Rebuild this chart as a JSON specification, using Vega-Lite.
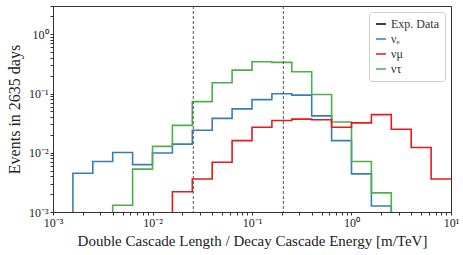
{
  "$schema": "https://vega.github.io/schema/vega-lite/v6.json",
  "width": 398,
  "height": 206,
  "autosize": {"type": "none"},
  "padding": {"left": 53, "top": 6, "right": 12, "bottom": 43},
  "background": "white",
  "config": {
    "font": "Liberation Serif",
    "view": {"stroke": "#333", "strokeWidth": 1},
    "axis": {"domainColor": "#333", "tickColor": "#333", "labelColor": "#222", "titleColor": "#222", "grid": false, "labelFont": "Liberation Serif", "labelFontSize": 12, "titleFontSize": 15, "titleFontWeight": "normal"}
  },
  "layer": [
    {
      "data": {
        "values": [
          {"edge": 0.001, "series": "νₑ", "v": 0.0001},
          {"edge": 0.001585, "series": "νₑ", "v": 0.0045},
          {"edge": 0.002512, "series": "νₑ", "v": 0.0071},
          {"edge": 0.003981, "series": "νₑ", "v": 0.0101},
          {"edge": 0.00631, "series": "νₑ", "v": 0.0063},
          {"edge": 0.01, "series": "νₑ", "v": 0.0099},
          {"edge": 0.01585, "series": "νₑ", "v": 0.014},
          {"edge": 0.02512, "series": "νₑ", "v": 0.024},
          {"edge": 0.03981, "series": "νₑ", "v": 0.038},
          {"edge": 0.0631, "series": "νₑ", "v": 0.055},
          {"edge": 0.1, "series": "νₑ", "v": 0.079},
          {"edge": 0.1585, "series": "νₑ", "v": 0.099},
          {"edge": 0.2512, "series": "νₑ", "v": 0.094},
          {"edge": 0.3981, "series": "νₑ", "v": 0.042},
          {"edge": 0.631, "series": "νₑ", "v": 0.016},
          {"edge": 1, "series": "νₑ", "v": 0.0044},
          {"edge": 1.585, "series": "νₑ", "v": 0.00126},
          {"edge": 2.512, "series": "νₑ", "v": 0.0001},
          {"edge": 10, "series": "νₑ", "v": 0.0001},
          {"edge": 0.001, "series": "ντ", "v": 0.0001},
          {"edge": 0.003981, "series": "ντ", "v": 0.0013},
          {"edge": 0.00631, "series": "ντ", "v": 0.0053},
          {"edge": 0.01, "series": "ντ", "v": 0.0128},
          {"edge": 0.01585, "series": "ντ", "v": 0.029},
          {"edge": 0.02512, "series": "ντ", "v": 0.073},
          {"edge": 0.03981, "series": "ντ", "v": 0.152},
          {"edge": 0.0631, "series": "ντ", "v": 0.248},
          {"edge": 0.1, "series": "ντ", "v": 0.344},
          {"edge": 0.1585, "series": "ντ", "v": 0.335},
          {"edge": 0.2512, "series": "ντ", "v": 0.233},
          {"edge": 0.3981, "series": "ντ", "v": 0.096},
          {"edge": 0.631, "series": "ντ", "v": 0.033},
          {"edge": 1, "series": "ντ", "v": 0.0071},
          {"edge": 1.585, "series": "ντ", "v": 0.0021},
          {"edge": 2.512, "series": "ντ", "v": 0.0001},
          {"edge": 10, "series": "ντ", "v": 0.0001},
          {"edge": 0.001, "series": "νμ", "v": 0.0001},
          {"edge": 0.01585, "series": "νμ", "v": 0.0022},
          {"edge": 0.02512, "series": "νμ", "v": 0.0036},
          {"edge": 0.03981, "series": "νμ", "v": 0.0069},
          {"edge": 0.0631, "series": "νμ", "v": 0.016},
          {"edge": 0.1, "series": "νμ", "v": 0.027},
          {"edge": 0.1585, "series": "νμ", "v": 0.035},
          {"edge": 0.2512, "series": "νμ", "v": 0.037},
          {"edge": 0.3981, "series": "νμ", "v": 0.036},
          {"edge": 0.631, "series": "νμ", "v": 0.027},
          {"edge": 1, "series": "νμ", "v": 0.032},
          {"edge": 1.585, "series": "νμ", "v": 0.044},
          {"edge": 2.512, "series": "νμ", "v": 0.025},
          {"edge": 3.981, "series": "νμ", "v": 0.0123},
          {"edge": 6.31, "series": "νμ", "v": 0.0036},
          {"edge": 10, "series": "νμ", "v": 0.0036}
        ]
      },
      "mark": {"type": "line", "interpolate": "step-after", "strokeWidth": 1.6, "clip": true},
      "encoding": {
        "x": {
          "field": "edge", "type": "quantitative",
          "scale": {"type": "log", "domain": [0.001, 10], "nice": false},
          "axis": {
            "title": "Double Cascade Length / Decay Cascade Energy [m/TeV]",
            "values": [0.001,0.002,0.003,0.004,0.005,0.006,0.007,0.008,0.009,0.01,0.02,0.03,0.04,0.05,0.06,0.07,0.08,0.09,0.1,0.2,0.3,0.4,0.5,0.6,0.7,0.8,0.9,1,2,3,4,5,6,7,8,9,10],
            "labelExpr": "datum.value == 0.001 ? '10⁻³' : datum.value == 0.01 ? '10⁻²' : datum.value == 0.1 ? '10⁻¹' : datum.value == 1 ? '10⁰' : datum.value == 10 ? '10¹' : ''",
            "tickSize": 3,
            "labelFlush": false,
            "titlePadding": 5
          }
        },
        "y": {
          "field": "v", "type": "quantitative",
          "scale": {"type": "log", "domain": [0.001, 3], "nice": false},
          "axis": {
            "title": "Events in 2635 days",
            "titleFontSize": 16,
            "values": [0.001,0.002,0.003,0.004,0.005,0.006,0.007,0.008,0.009,0.01,0.02,0.03,0.04,0.05,0.06,0.07,0.08,0.09,0.1,0.2,0.3,0.4,0.5,0.6,0.7,0.8,0.9,1,2,3],
            "labelExpr": "datum.value == 0.001 ? '10⁻³' : datum.value == 0.01 ? '10⁻²' : datum.value == 0.1 ? '10⁻¹' : datum.value == 1 ? '10⁰' : ''",
            "tickSize": 3,
            "labelFlush": false,
            "titlePadding": 6
          }
        },
        "color": {
          "field": "series", "type": "nominal",
          "scale": {"domain": ["Exp. Data", "νₑ", "νμ", "ντ"], "range": ["black", "#377eb8", "#e41a1c", "#4daf4a"]},
          "legend": {"title": null, "orient": "top-right", "offset": 6, "fillColor": "white", "strokeColor": "#ccc", "padding": 6, "cornerRadius": 3, "labelFont": "Liberation Serif", "labelFontSize": 12, "labelColor": "#333", "rowPadding": 3}
        }
      }
    },
    {
      "data": {
        "values": [
          {"edge": 0.0257, "label": "Event #1"},
          {"edge": 0.2066, "label": "Event #2"}
        ]
      },
      "mark": {"type": "rule", "color": "#555", "strokeDash": [3, 2], "strokeWidth": 1},
      "encoding": {
        "x": {"field": "edge", "type": "quantitative"}
      }
    }
  ]
}
